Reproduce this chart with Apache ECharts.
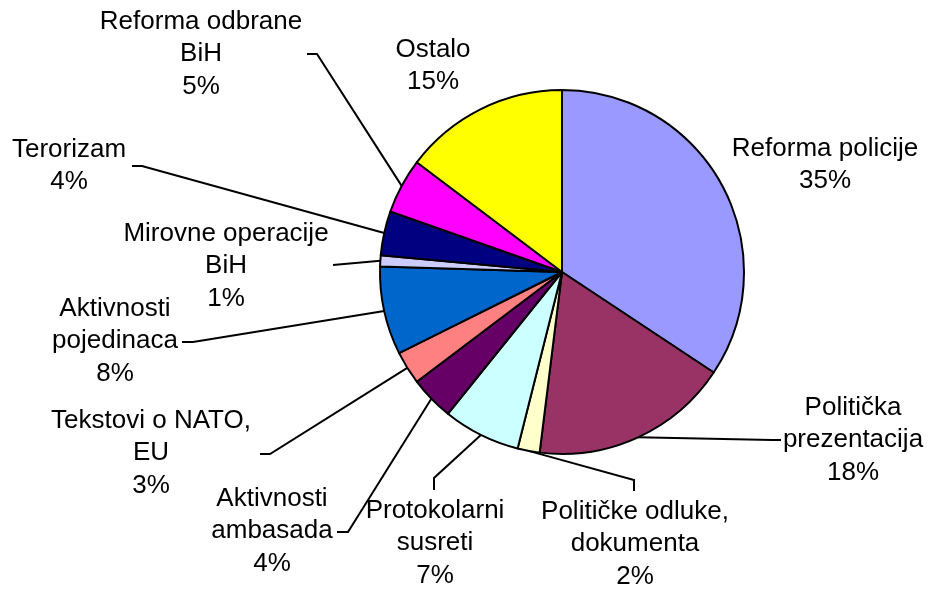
<!DOCTYPE html>
<html>
<head>
<meta charset="utf-8">
<script src="https://cdn.jsdelivr.net/npm/echarts@6/dist/echarts.min.js"></script>
<style>
  html, body { margin: 0; padding: 0; background: #ffffff; }
  #chart { width: 928px; height: 591px; }
</style>
</head>
<body>
<div id="chart"></div>
<script>
// Topics and their shares (%), clockwise from 12 o'clock
var categories = [
  'Reforma policije',
  'Politička\nprezentacija',
  'Političke odluke,\ndokumenta',
  'Protokolarni\nsusreti',
  'Aktivnosti\nambasada',
  'Tekstovi o NATO,\nEU',
  'Aktivnosti\npojedinaca',
  'Mirovne operacije\nBiH',
  'Terorizam',
  'Reforma odbrane\nBiH',
  'Ostalo'
];
var shares = [35, 18, 2, 7, 4, 3, 8, 1, 4, 5, 15];

var sliceColors = [
  '#9999FF', '#993366', '#FFFFCC', '#CCFFFF', '#660066', '#FF8080',
  '#0066CC', '#CCCCFF', '#000080', '#FF00FF', '#FFFF00'
];

// Label placement: [centerX, centerY, elbowX, elbowY, endX, endY] (null = no leader line)
var labelPlacement = [
  [825, 165, null],
  [853, 440, 772, 440, 781, 440],
  [635, 544, 634, 480, 634, 491],
  [435, 543, 434, 478, 434, 490],
  [272, 531, 348, 532, 337, 532],
  [151, 453, 270, 454, 260, 454],
  [115, 341, 193, 342, 182, 342],
  [226, 266, 333, 265, 333, 265],
  [69, 166, 142, 166, 132, 166],
  [201, 54, 317, 54, 307, 54],
  [433, 66, null]
];

var pieData = categories.map(function (name, i) {
  var item = { name: name, value: shares[i], itemStyle: { color: sliceColors[i] } };
  if (labelPlacement[i][2] === null) item.labelLine = { show: false };
  return item;
});

var chart = echarts.init(document.getElementById('chart'), null, { renderer: 'canvas' });
chart.setOption({
  backgroundColor: '#ffffff',
  animation: false,
  series: [{
    type: 'pie',
    center: [562, 272],
    radius: 182,
    startAngle: 90,
    clockwise: true,
    avoidLabelOverlap: false,
    data: pieData,
    itemStyle: { borderColor: '#000000', borderWidth: 2 },
    label: {
      show: true,
      position: 'outside',
      formatter: function (p) { return p.name + '\n' + p.value + '%'; },
      fontFamily: 'Liberation Sans, Arial, sans-serif',
      fontSize: 26,
      lineHeight: 32.5,
      color: '#000000',
      align: 'center'
    },
    labelLine: {
      show: true,
      lineStyle: { color: '#000000', width: 2 }
    },
    labelLayout: function (params) {
      var lp = labelPlacement[params.dataIndex];
      var out = { x: lp[0], y: lp[1], align: 'center', verticalAlign: 'middle' };
      if (lp[2] !== null && params.labelLinePoints) {
        var p0 = params.labelLinePoints[0];
        out.labelLinePoints = [[p0[0], p0[1]], [lp[2], lp[3]], [lp[4], lp[5]]];
      }
      return out;
    },
    emphasis: { disabled: true }
  }]
});
</script>
</body>
</html>
